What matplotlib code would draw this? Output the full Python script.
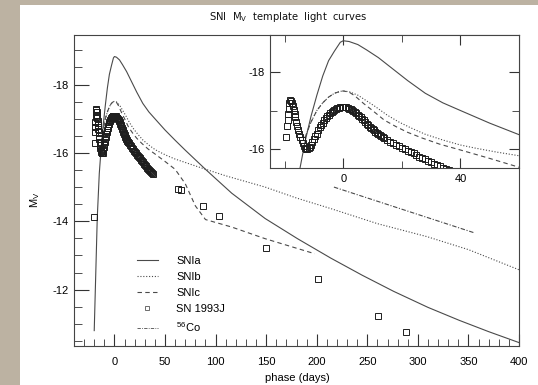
import matplotlib
matplotlib.use("Agg")
import matplotlib.pyplot as plt
from matplotlib.patches import Rectangle
from matplotlib.lines import Line2D
from matplotlib.ticker import MultipleLocator, FixedLocator

plt.rcParams['font.family'] = ['Liberation Sans', 'DejaVu Sans']
plt.rcParams['mathtext.fontset'] = 'custom'
plt.rcParams['mathtext.rm'] = 'Liberation Sans'
plt.rcParams['mathtext.default'] = 'regular'
plt.rcParams['axes.unicode_minus'] = False

# ---- data ----
snia_x = [-20, -17, -15, -13, -11, -9, -7, -5, -3, -1, 0, 2, 5, 8, 12, 17, 22, 28, 34, 40,
          50, 60, 70, 80, 90, 100, 116, 149, 181, 214, 245, 276, 310, 341, 370, 400]
snia_y = [-10.8, -14.1, -15.4, -16.2, -16.85, -17.4, -17.9, -18.3, -18.55, -18.78, -18.82, -18.8,
          -18.72, -18.58, -18.38, -18.08, -17.78, -17.45, -17.2, -17.0,
          -16.67, -16.37, -16.08, -15.8, -15.52, -15.25, -14.82, -14.08, -13.49, -12.92, -12.42,
          -11.95, -11.48, -11.1, -10.77, -10.45]

snib_x = [-13, -11, -9, -7, -5, -3, -1, 0, 2, 5, 8, 11, 15, 19, 23, 28, 34, 40, 45, 52, 60,
          70, 83, 110, 149, 180, 214, 260, 309, 350, 400]
snib_y = [-16.3, -16.7, -17.0, -17.2, -17.35, -17.45, -17.5, -17.51, -17.49, -17.4, -17.25,
          -17.1, -16.88, -16.7, -16.55, -16.38, -16.23, -16.1, -16.02, -15.92, -15.82,
          -15.72, -15.59, -15.33, -15.0, -14.68, -14.37, -13.93, -13.55, -13.17, -12.58]

snic_x = [-13, -11, -9, -7, -5, -3, -1, 0, 2, 4, 7, 10, 14, 18, 22, 27, 33, 40, 50, 60,
          70, 80, 90, 116, 149, 198]
snic_y = [-16.3, -16.7, -17.0, -17.2, -17.35, -17.45, -17.5, -17.51, -17.48, -17.38, -17.18,
          -17.0, -16.75, -16.58, -16.43, -16.28, -16.12, -15.97, -15.75, -15.52,
          -15.1, -14.45, -14.05, -13.83, -13.49, -13.05]

sn93j_x = [-20.3,
           -19.4, -19.2, -19.0, -18.8, -18.6, -18.4, -18.1, -17.8, -17.5, -17.2, -16.9, -16.6,
           -16.3, -16.0, -15.7, -15.4, -15.0, -14.6, -14.2, -13.8, -13.4, -13.0, -12.6, -12.2,
           -11.8, -11.4, -11.0, -10.5, -10.0, -9.5, -9.0, -8.5, -8.0, -7.5, -7.0, -6.5, -6.0,
           -5.5, -5.0, -4.5, -4.0, -3.5, -3.0, -2.5, -2.0, -1.5, -1.0, -0.5, 0.0, 0.5, 1.0, 1.5,
           2.0, 2.5, 3.0, 3.5, 4.0, 4.5, 5.0, 5.5, 6.0, 6.5, 7.0, 7.5, 8.0, 8.5, 9.0, 9.5, 10.0,
           10.5, 11.0, 11.5, 12.0, 12.5, 13.0, 13.5, 14.0, 15.0, 16.0, 17.0, 18.0, 19.0, 20.0,
           21.0, 22.0, 23.0, 24.0, 25.0, 26.0, 27.0, 28.0, 29.0, 30.0, 31.0, 32.0, 33.0, 34.0,
           35.0, 36.0, 37.0, 38.0,
           63.0, 65.5, 88.0, 103.0, 150.0, 201.5, 261.0, 288.0]
sn93j_y = [-14.13,
           -16.3, -16.6, -16.75, -16.9, -17.05, -17.2, -17.28, -17.25, -17.2, -17.12, -17.02,
           -16.92, -16.82, -16.7, -16.6, -16.5, -16.4, -16.3, -16.22, -16.14, -16.08, -16.03,
           -16.0, -15.99, -16.01, -16.05, -16.1, -16.18, -16.25, -16.33, -16.4, -16.48, -16.56,
           -16.62, -16.68, -16.74, -16.8, -16.85, -16.89, -16.93, -16.97, -17.0, -17.02, -17.04,
           -17.06, -17.07, -17.08, -17.09, -17.09, -17.09, -17.08, -17.07, -17.05, -17.03,
           -17.01, -16.99, -16.96, -16.93, -16.89, -16.85, -16.82, -16.78, -16.74, -16.7, -16.66,
           -16.62, -16.58, -16.55, -16.52, -16.48, -16.45, -16.42, -16.39, -16.36, -16.33,
           -16.31, -16.28, -16.23, -16.19, -16.15, -16.11, -16.07, -16.03, -15.99, -15.95,
           -15.91, -15.88, -15.84, -15.8, -15.77, -15.73, -15.69, -15.65, -15.61, -15.57,
           -15.54, -15.5, -15.47, -15.44, -15.41, -15.38,
           -14.95, -14.92, -14.45, -14.14, -13.22, -12.3, -11.23, -10.76]

co_x = [217, 356]
co_y = [-15.0, -13.66]

labels = ['SNIa', 'SNIb', 'SNIc', 'SN 1993J', '$^{56}$Co']

# ---- figure ----
W, H = 538, 385
fig = plt.figure(figsize=(W / 100, H / 100), dpi=100)
fig.patch.set_facecolor('#bcb2a2')
bg = fig.add_axes([20 / W, 0, 1 - 20 / W, 1 - 5 / H], zorder=-10)
bg.set_axis_off()
bg.add_patch(Rectangle((0, 0), 1, 1, transform=bg.transAxes, facecolor='white',
                       edgecolor='none'))

lc = '#4a4a4a'
lw = 0.8


def draw(ax):
    ax.plot(snia_x, snia_y, color=lc, lw=lw, ls='-')
    ax.plot(snib_x, snib_y, color=lc, lw=lw, ls=(0, (1, 1.6)))
    ax.plot(snic_x, snic_y, color=lc, lw=lw, ls=(0, (4, 3)))
    ax.plot(sn93j_x, sn93j_y, ls='none', marker='s', ms=3.7, mfc='none', mec='#1e1e1e', mew=0.7)
    ax.plot(co_x, co_y, color=lc, lw=lw, ls=(0, (4, 1.5, 1, 1.5)))


ax = fig.add_axes([74 / W, 1 - 346 / H, (519 - 74) / W, (346 - 35) / H], zorder=1)
ax.set_facecolor('none')
draw(ax)
ax.set_xlim(-40, 400)
ax.set_ylim(-10.35, -19.45)
ax.xaxis.set_major_locator(MultipleLocator(50))
ax.xaxis.set_minor_locator(MultipleLocator(10))
ax.yaxis.set_major_locator(MultipleLocator(2))
ax.yaxis.set_minor_locator(MultipleLocator(0.5))
ax.tick_params(which='both', direction='in', colors='#333333', labelcolor='black',
               top=False, right=False, labelsize=8)
ax.tick_params(axis='x', which='major', length=9, pad=8)
ax.tick_params(axis='x', which='minor', length=5)
ax.tick_params(axis='y', which='major', length=11, pad=4)
ax.tick_params(axis='y', which='minor', length=6)
for s in ax.spines.values():
    s.set_color('#444444')
    s.set_linewidth(0.8)

handles = [Line2D([], [], color=lc, lw=lw, ls='-'),
           Line2D([], [], color=lc, lw=lw, ls=(0, (1, 1.6))),
           Line2D([], [], color=lc, lw=lw, ls=(0, (4, 3))),
           Line2D([], [], ls='none', marker='s', ms=3.3, mfc='none', mec='#555555', mew=0.6),
           Line2D([], [], color=lc, lw=0.6, ls=(0, (4, 1.5, 1, 1.5)))]
leg = ax.legend(handles, labels, loc='upper left', bbox_to_anchor=(131 / W, 1 - 250 / H),
                bbox_transform=fig.transFigure, frameon=False, fontsize=8,
                handlelength=1.9, handletextpad=1.65, labelspacing=0.55, borderpad=0)

fig.text(297 / W, 1 - 378 / H, 'phase (days)', ha='center', va='center', fontsize=8)
fig.text(35 / W, 1 - 200 / H, 'M$_{V}$', ha='center', va='center', fontsize=8, rotation=90)
fig.text(288 / W, 1 - 17 / H, 'SNI  M$_{V}$  template  light  curves', ha='center', va='center',
         fontsize=7.2, family='DejaVu Sans', color='#111111')

# inset
axi = fig.add_axes([270 / W, 1 - 168 / H, (519 - 270) / W, (168 - 35) / H], zorder=2)
axi.set_facecolor('white')
draw(axi)
axi.set_xlim(-25, 60)
axi.set_ylim(-15.5, -18.97)
axi.xaxis.set_major_locator(FixedLocator([0, 40]))
axi.xaxis.set_minor_locator(FixedLocator([-20, 20]))
axi.yaxis.set_major_locator(FixedLocator([-18, -16]))
axi.yaxis.set_minor_locator(FixedLocator([-17]))
axi.tick_params(which='both', direction='in', top=True, right=True, colors='#333333',
                labelcolor='black', labelsize=8)
axi.tick_params(which='major', length=7, pad=4)
axi.tick_params(which='minor', length=5)
for s in axi.spines.values():
    s.set_color('#444444')
    s.set_linewidth(0.8)

fig.savefig('out.png', dpi=100, facecolor=fig.get_facecolor())
